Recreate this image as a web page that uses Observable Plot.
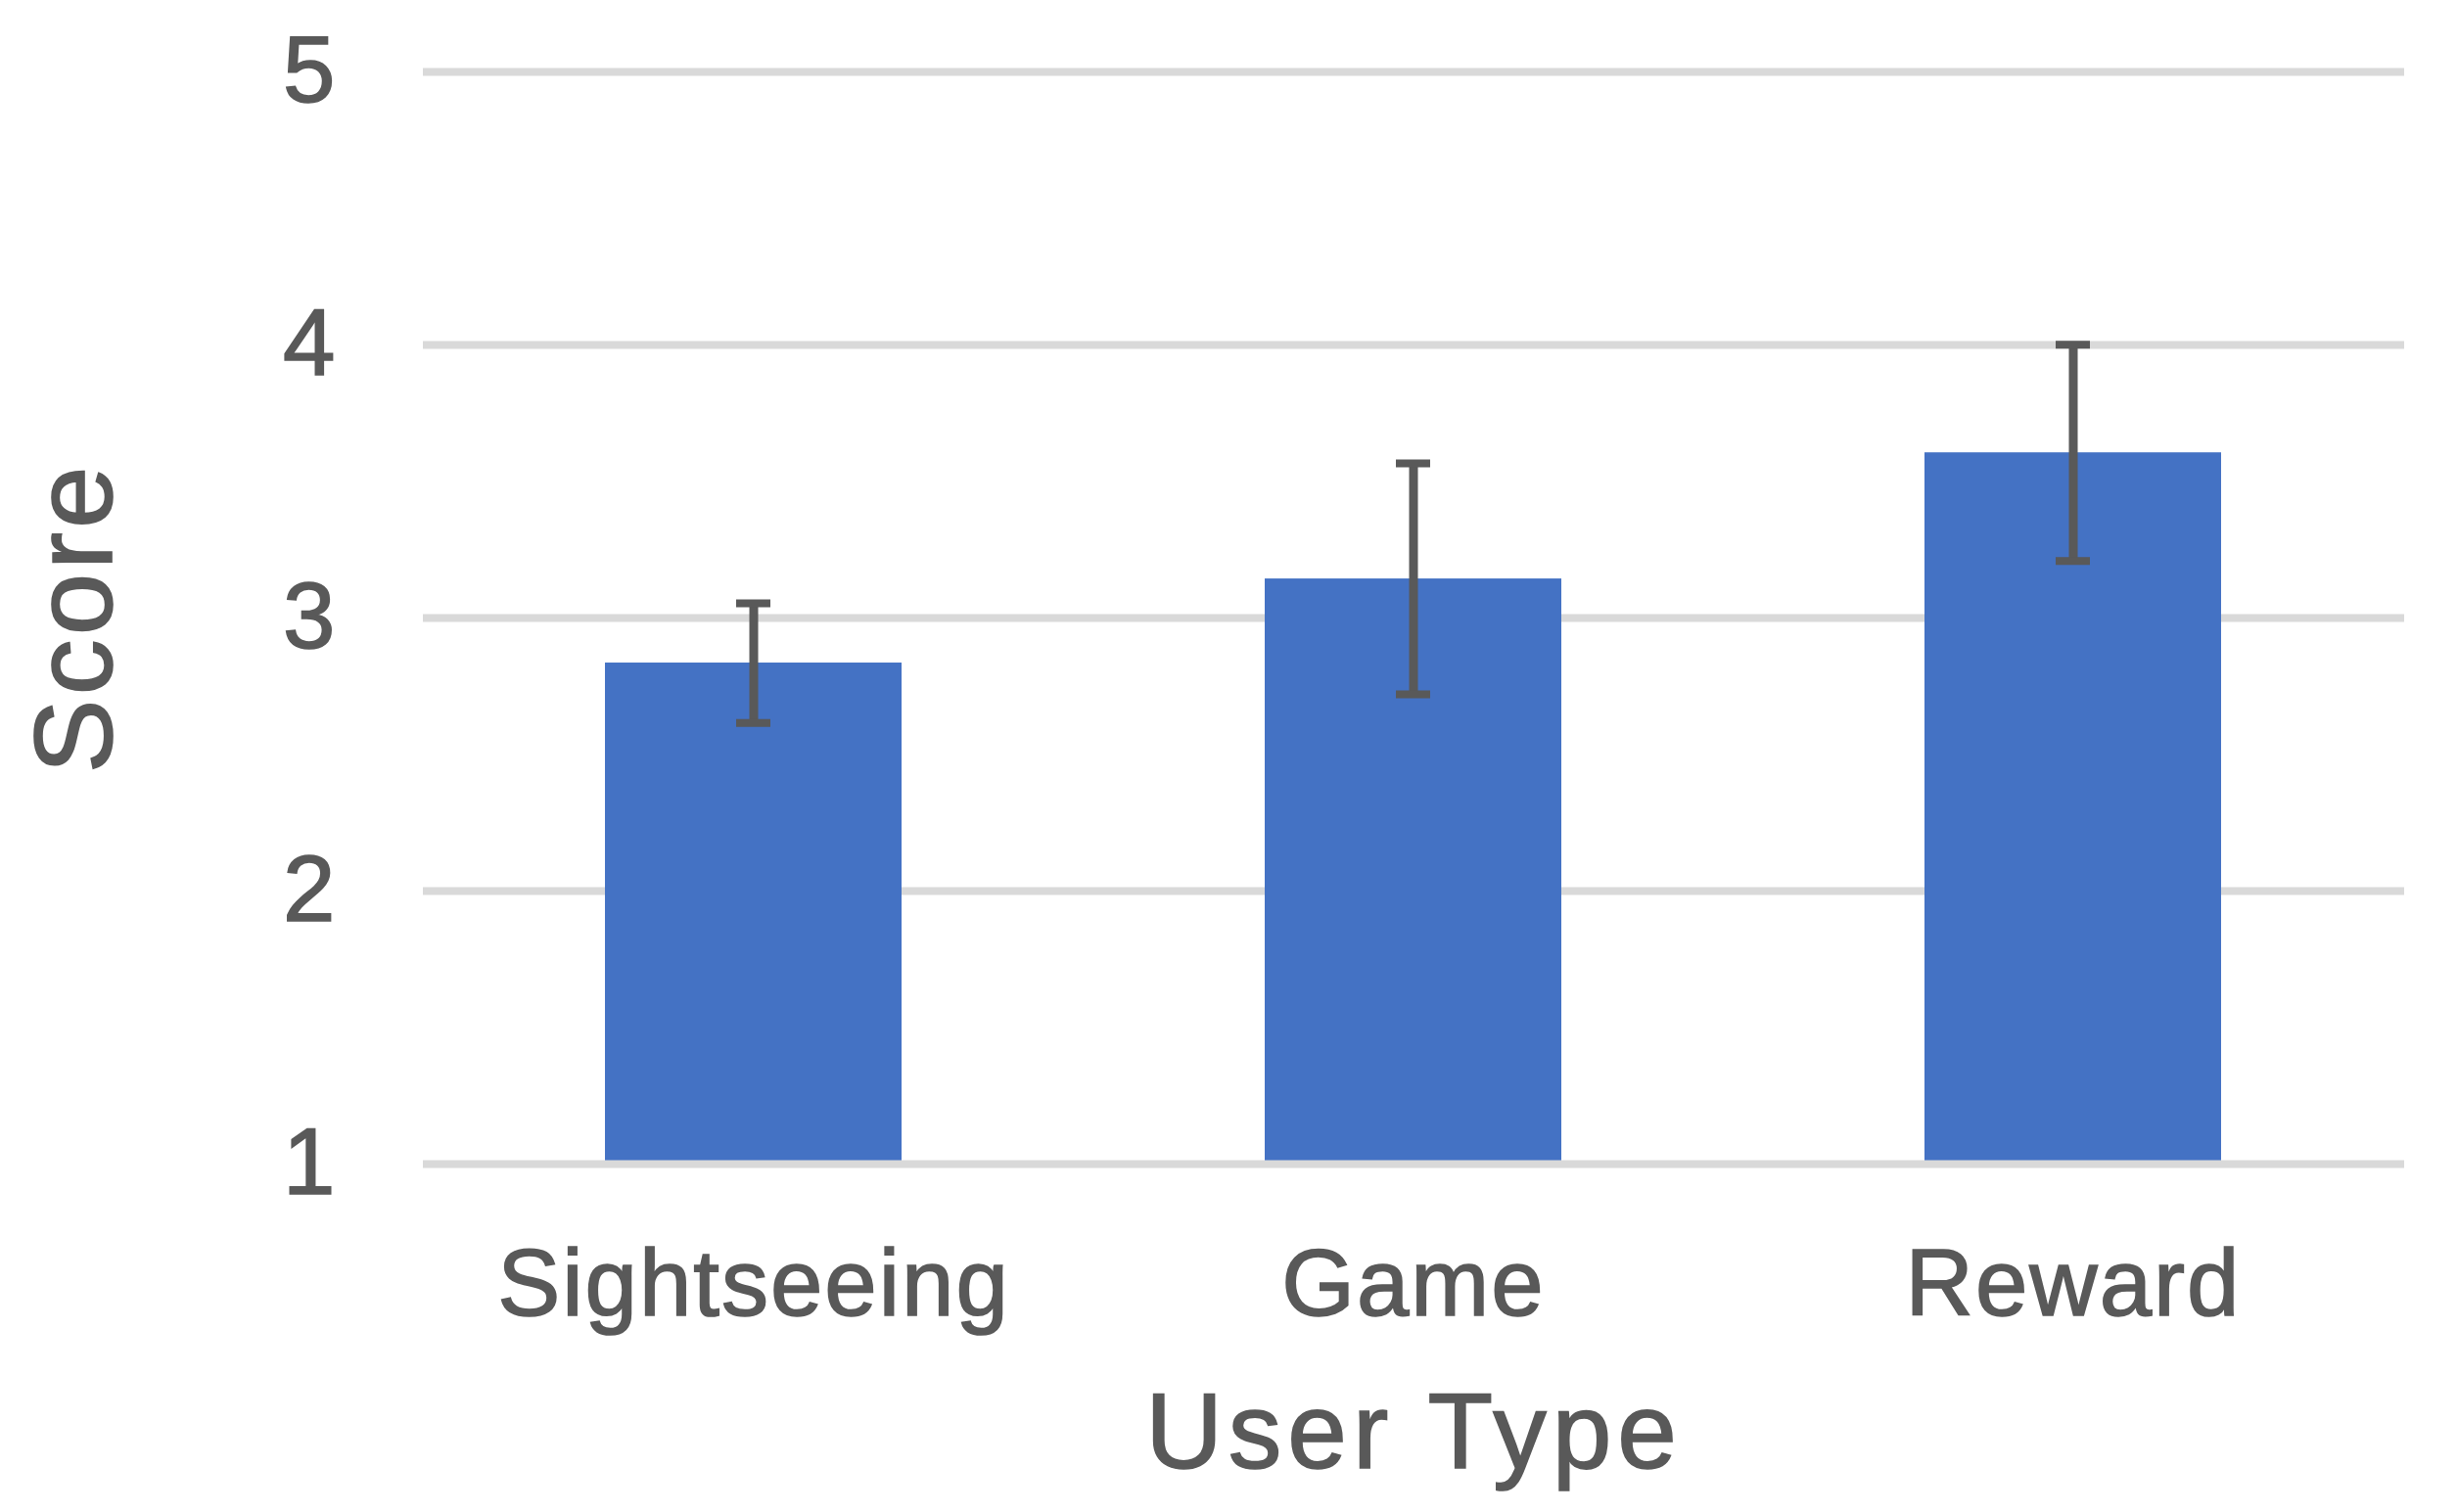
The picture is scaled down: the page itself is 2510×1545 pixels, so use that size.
<!DOCTYPE html>
<html><head><meta charset="utf-8">
<script src="https://cdn.jsdelivr.net/npm/d3@7"></script>
<script src="https://cdn.jsdelivr.net/npm/@observablehq/plot@0.6"></script>
<style>
html,body{margin:0;padding:0;background:#fff;}
#chart svg{display:block}
#chart text{stroke:#595959;stroke-width:1.6px;paint-order:stroke}
#chart [aria-label="x-axis tick label"] text{letter-spacing:2px}
#chart [aria-label="x-axis label"], #chart [aria-label="x-axis label"] text{font-size:109px;letter-spacing:6px}
#chart [aria-label="y-axis label"], #chart [aria-label="y-axis label"] text{font-size:114px;letter-spacing:4px}
</style></head><body><div id="chart"></div>
<script>
const categories = ["Sightseeing", "Game", "Reward"];
const means = [2.835, 3.143, 3.605];
const errors = [0.219, 0.423, 0.396];
const yTicks = [1, 2, 3, 4, 5];
const gridLines = [2, 3, 4, 5];
const baseLine = [1];

const data = categories.map((c, i) => ({type: c, mean: means[i], lo: means[i] - errors[i], hi: means[i] + errors[i]}));
const textColor = "#595959";

const chart = Plot.plot({
  width: 2510, height: 1545,
  marginLeft: 432, marginRight: 54, marginTop: 73, marginBottom: 356,
  style: {fontFamily: "'Liberation Sans', Arial, sans-serif", color: textColor, background: "#fff"},
  x: {domain: categories, paddingInner: 0.55, paddingOuter: 0.275, label: null},
  y: {domain: [1, 5], label: null},
  marks: [
    Plot.ruleY(gridLines, {stroke: "#D9D9D9", strokeWidth: 8}),
    Plot.barY(data, {x: "type", y1: 1, y2: "mean", fill: "#4472C4"}),
    Plot.ruleY(baseLine, {stroke: "#D9D9D9", strokeWidth: 8}),
    Plot.ruleX(data, {x: "type", y1: "lo", y2: "hi", stroke: "#595959", strokeWidth: 9}),
    Plot.tickY(data, {x: "type", y: "lo", stroke: "#595959", strokeWidth: 8, inset: 134}),
    Plot.tickY(data, {x: "type", y: "hi", stroke: "#595959", strokeWidth: 8, inset: 134}),
    Plot.axisY({ticks: yTicks, tickFormat: d3.format("d"), tickSize: 0, tickPadding: 90, fontSize: 96, fill: textColor,
      label: "Score", labelAnchor: "center", labelOffset: 399, labelArrow: "none"}),
    Plot.axisX({tickSize: 0, tickPadding: 86, fontSize: 96, fill: textColor,
      label: "User Type", labelAnchor: "center", labelOffset: 310, labelArrow: "none"})
  ]
});
document.getElementById("chart").appendChild(chart);
</script></body></html>
